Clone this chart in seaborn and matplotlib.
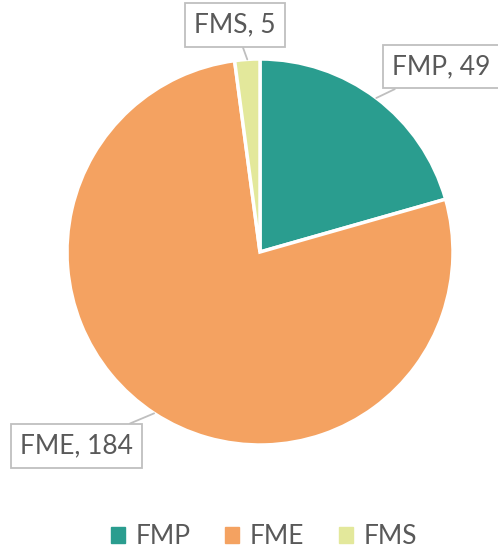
import numpy as np
import matplotlib
matplotlib.use("Agg")
import matplotlib.pyplot as plt
import seaborn as sns

categories = ["FMP", "FME", "FMS"]
values = [49, 184, 5]
colors = ["#2A9D8F", "#F4A261", "#E3E89B"]
label_pos = [(0.94, 0.96), (-0.95, -1.005), (-0.13, 1.175)]

sns.set_style("white")
plt.rcParams["font.family"] = ["Lato", "DejaVu Sans"]
palette = sns.color_palette(colors)

fig = plt.figure(figsize=(4.98, 5.5), dpi=100)
ax = fig.add_axes([67 / 498, 105 / 550, 386 / 498, 386 / 550])

wedges, _ = ax.pie(values, colors=palette, startangle=90, counterclock=False,
                   radius=1.0, wedgeprops=dict(edgecolor="white", linewidth=2.5))
ax.set_xlim(-1, 1)
ax.set_ylim(-1, 1)
ax.set_aspect("equal")
ax.axis("off")

txt_color = "#595959"
for w, cat, val, pos in zip(wedges, categories, values, label_pos):
    mid = np.deg2rad((w.theta1 + w.theta2) / 2)
    tip = (np.cos(mid), np.sin(mid))
    ax.annotate(f"{cat}, {val}", xy=tip, xytext=pos, ha="center", va="center",
                fontsize=19, color=txt_color, annotation_clip=False,
                bbox=dict(boxstyle="square,pad=0.35", fc="white", ec="#bfbfbf", lw=1.3),
                arrowprops=dict(arrowstyle="-", color="#bfbfbf", lw=1.3,
                                shrinkA=0, shrinkB=0))

handles = [plt.Rectangle((0, 0), 1, 1, color=c) for c in palette]
fig.legend(handles, categories, loc="center", bbox_to_anchor=(0.53, 1 - 537 / 550),
           ncol=3, frameon=False, fontsize=19, labelcolor=txt_color,
           handlelength=0.55, handleheight=0.55, handletextpad=0.4, columnspacing=1.3)

fig.savefig("out.png", dpi=100)
